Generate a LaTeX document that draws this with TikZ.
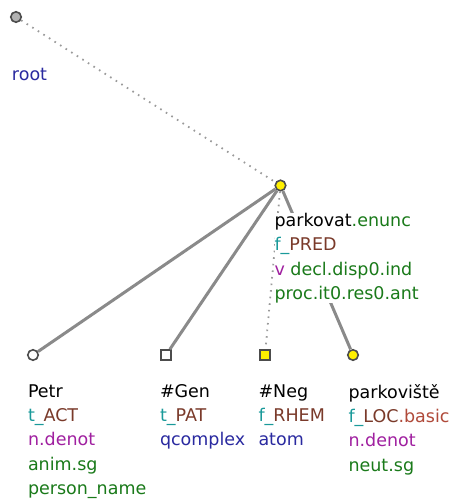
\documentclass[tikz,border=0pt]{standalone}
\usepackage{fontspec}
\setmainfont{DejaVu Sans}
\definecolor{cteal}{HTML}{1A9A9A}
\definecolor{cbrown}{HTML}{7A3A2A}
\definecolor{cbasic}{HTML}{B04A3A}
\definecolor{cnavy}{HTML}{2A2AA0}
\definecolor{cgreen}{HTML}{1A7A1A}
\definecolor{cpurple}{HTML}{A020A0}
\definecolor{cedge}{HTML}{8A8A8A}
\definecolor{cdot}{HTML}{9A9A9A}
\definecolor{cyel}{HTML}{FFF000}
\tikzset{
  x=1pt, y=-1pt,
  tnode/.style={circle, draw=black!70, line width=1.6pt, minimum size=10.5pt, inner sep=0pt},
  snode/.style={rectangle, draw=black!70, line width=1.6pt, minimum size=10pt, inner sep=0pt},
  thickedge/.style={draw=cedge, line width=3pt},
  dotedge/.style={draw=cdot, line width=1.8pt, dash pattern=on 1.6pt off 5pt},
  lbl/.style={anchor=north west, inner sep=0pt, outer sep=0pt, fill=white, align=left,
    font={\fontsize{17.5}{24.4}\selectfont}},
}
\newcommand{\st}{\rule{0pt}{13pt}}
\begin{document}
\begin{tikzpicture}
\useasboundingbox (0,0) rectangle (455,500);
\node[tnode, fill=black!30] (root) at (16,17) {};
\node[tnode, fill=cyel] (pred) at (280.5,185.5) {};
\node[tnode, fill=white] (petr) at (33,355) {};
\node[snode, fill=white] (gen) at (166,355) {};
\node[snode, fill=cyel] (neg) at (265,355) {};
\node[tnode, fill=cyel] (park) at (353,355) {};
\draw[dotedge] (root) -- (pred);
\draw[thickedge] (pred) -- (petr);
\draw[thickedge] (pred) -- (gen);
\draw[dotedge] (pred) -- (neg);
\draw[thickedge] (pred) -- (park);
\node[lbl] (rootl) at (12,68) {\st\textcolor{cnavy}{root}};
\node[lbl] (predl) at (274.5,213) {\st parkovat\textcolor{cgreen}{.enunc}\\
  \textcolor{cteal}{f\_}\textcolor{cbrown}{PRED}\\
  \textcolor{cpurple}{v} \textcolor{cgreen}{decl.disp0.ind}\\
  \textcolor{cgreen}{proc.it0.res0.ant}};
\node[lbl] (petrl) at (28,384) {\st Petr\\
  \textcolor{cteal}{t\_}\textcolor{cbrown}{ACT}\\
  \textcolor{cpurple}{n.denot}\\
  \textcolor{cgreen}{anim.sg}\\
  \textcolor{cgreen}{person\_name}};
\node[lbl] (genl) at (160,384) {\st\#Gen\\
  \textcolor{cteal}{t\_}\textcolor{cbrown}{PAT}\\
  \textcolor{cnavy}{qcomplex}};
\node[lbl] (negl) at (258.5,384) {\st\#Neg\\
  \textcolor{cteal}{f\_}\textcolor{cbrown}{RHEM}\\
  \textcolor{cnavy}{atom}};
\node[lbl] (parkl) at (348.5,384) {\st parkoviště\\
  \textcolor{cteal}{f\_}\textcolor{cbrown}{LOC}\textcolor{cbasic}{.basic}\\
  \textcolor{cpurple}{n.denot}\\
  \textcolor{cgreen}{neut.sg}};
\end{tikzpicture}
\end{document}
